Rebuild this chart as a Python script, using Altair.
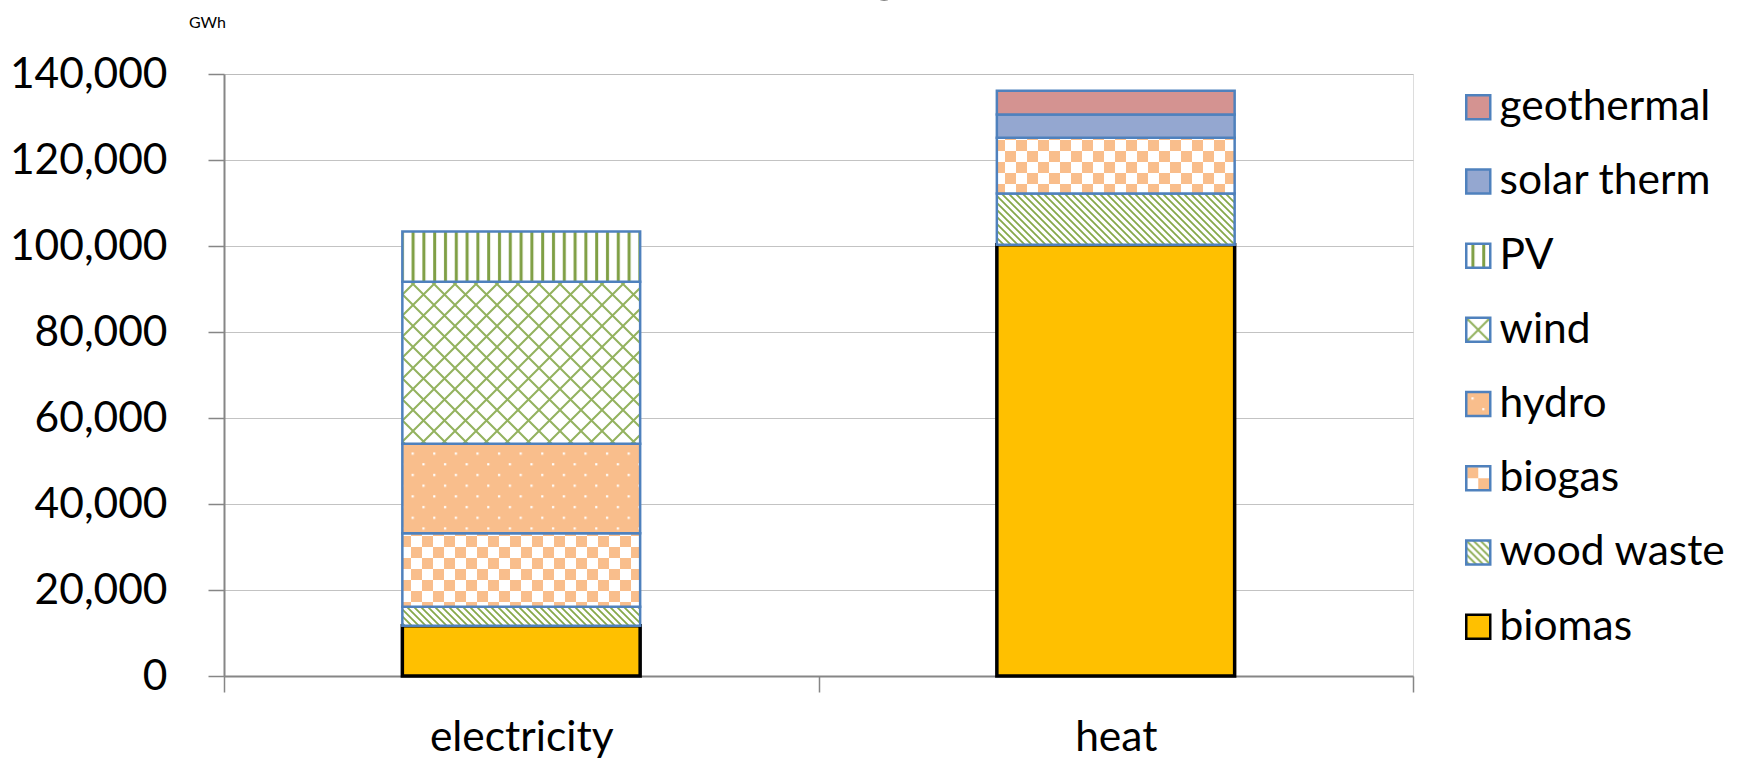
import altair as alt
import pandas as pd

# ---- data ----
categories = ["electricity", "heat"]
sources = ["biomas", "wood waste", "biogas", "hydro", "wind", "PV", "solar therm", "geothermal"]
electricity_gwh = [11700, 4400, 17100, 20800, 37700, 11700, 0, 0]
heat_gwh = [100300, 11900, 13000, 0, 0, 0, 5400, 5500]
y_ticks = [0, 20000, 40000, 60000, 80000, 100000, 120000, 140000]
title_text = "Renewable Energy in Germany (2010)"
unit_label = "GWh"

# fills: patterns defined in the page (see DEFS) or plain colours
fill_for = {
    "biomas": "#FFC000",
    "wood waste": "url(#pWood)",
    "biogas": "url(#pBiogas)",
    "hydro": "url(#pHydro)",
    "wind": "url(#pWind)",
    "PV": "url(#pPV)",
    "solar therm": "#94A7D0",
    "geothermal": "#D49391",
}
stroke_for = {s: ("#000000" if s == "biomas" else "#4F81BD") for s in sources}

rows = []
for cat, vals in zip(categories, [electricity_gwh, heat_gwh]):
    for i, (s, v) in enumerate(zip(sources, vals)):
        if v > 0:
            rows.append({"use": cat, "source": s, "value": v, "ord": i})
df = pd.DataFrame(rows)
title_df = pd.DataFrame({"t": [title_text]})

legend_order = list(reversed(sources))
FONT = "Lato"
FS = 42.5


def make_legend():
    return alt.Legend(title=None, orient="none", legendX=1233, legendY=12,
                      symbolType="square", symbolSize=576, symbolStrokeWidth=2.5,
                      labelFontSize=FS, labelFont=FONT, labelColor="black",
                      labelOffset=0, rowPadding=31.2, padding=0, labelLimit=400)


bars = alt.Chart(df).mark_bar(width={"band": 0.4}).encode(
    x=alt.X("use:N", sort=categories, title=None,
            scale=alt.Scale(paddingInner=0, paddingOuter=0),
            axis=alt.Axis(labelAngle=0, tickBand="extent", tickSize=16, labelPadding=24,
                          labelFontSize=FS, labelFont=FONT, labelColor="black", labelLimit=500,
                          domainColor="#868686", domainWidth=2, tickColor="#868686",
                          tickWidth=1.5, grid=False)),
    y=alt.Y("value:Q", stack="zero", title=unit_label,
            scale=alt.Scale(domain=[0, 140000], nice=False),
            axis=alt.Axis(values=y_ticks, format=",.0f", tickSize=16, labelPadding=41,
                          labelFontSize=FS, labelFont=FONT, labelColor="black",
                          domainColor="#868686", domainWidth=2, tickColor="#868686",
                          tickWidth=1.5, grid=True, gridColor="#B4B4B4", gridWidth=0.8,
                          titleAngle=0, titleX=-17, titleY=-52, titleAlign="center",
                          titleBaseline="middle", titleFontSize=16, titleFont=FONT,
                          titleFontWeight="normal", titleColor="black")),
    fill=alt.Fill("source:N", sort=legend_order,
                  scale=alt.Scale(domain=legend_order, range=[fill_for[s] for s in legend_order]),
                  legend=make_legend()),
    stroke=alt.Stroke("source:N", sort=legend_order,
                      scale=alt.Scale(domain=legend_order, range=[stroke_for[s] for s in legend_order]),
                      legend=make_legend()),
    strokeWidth=alt.condition(alt.datum.source == "biomas", alt.value(3.5), alt.value(2.5)),
    order=alt.Order("ord:Q", sort="ascending"),
)

# chart title: in the reference it sits above the picture's top edge, only its descenders show
title_mark = alt.Chart(title_df).mark_text(
    font=FONT, fontSize=58, color="black", align="right", baseline="alphabetic"
).encode(
    text="t:N",
    x=alt.value(1191),
    y=alt.value(-84),
)

chart = alt.layer(bars, title_mark).properties(
    width=1189,
    height=602,
    autosize=alt.AutoSizeParams(type="none"),
    padding={"left": 224, "top": 74, "right": 337, "bottom": 83},
).configure_view(
    stroke="#000000", strokeWidth=2
).configure(background="white")

DEFS = """
<svg width="0" height="0" style="position:absolute;width:0;height:0;overflow:hidden" aria-hidden="true">
<defs>
<pattern id="pWood" patternUnits="userSpaceOnUse" width="7" height="7">
  <rect width="7" height="7" fill="#ffffff"/>
  <path d="M-1,-1 L8,8 M-1,6 L1,8 M6,-1 L8,1" stroke="#86A84A" stroke-width="1.8"/>
</pattern>
<pattern id="pBiogas" patternUnits="userSpaceOnUse" width="22" height="22">
  <rect width="22" height="22" fill="#ffffff"/>
  <rect x="0" y="0" width="11" height="11" fill="#F9BE8C"/>
  <rect x="11" y="11" width="11" height="11" fill="#F9BE8C"/>
</pattern>
<pattern id="pHydro" patternUnits="userSpaceOnUse" width="21.6" height="21.4">
  <rect width="21.6" height="21.4" fill="#F9BE8C"/>
  <rect x="4" y="4" width="2.2" height="2.2" fill="#ffffff"/>
  <rect x="14.8" y="14.7" width="2.2" height="2.2" fill="#ffffff"/>
</pattern>
<pattern id="pWind" patternUnits="userSpaceOnUse" width="21" height="21">
  <rect width="21" height="21" fill="#ffffff"/>
  <path d="M0,0 L21,21 M21,0 L0,21" stroke="#93B25E" stroke-width="2"/>
</pattern>
<pattern id="pPV" patternUnits="userSpaceOnUse" width="10.8" height="10">
  <rect width="10.8" height="10" fill="#ffffff"/>
  <rect x="4" y="0" width="3" height="10" fill="#7F9F45"/>
</pattern>
</defs>
</svg>
"""

saved = False
try:
    import jinja2
    import altair.utils.html as _ah
    _std = _ah.HTML_TEMPLATE
    _tmpl = jinja2.Template("")

    def _render(*args, **kwargs):
        html = _std.render(*args, **kwargs)
        return html.replace("<body>", "<body>" + DEFS, 1)

    _tmpl.render = _render
    chart.save("out.html", embed_options={"renderer": "svg", "actions": False}, template=_tmpl)
    saved = True
except Exception:
    saved = False

if not saved:
    chart.save("out.html", embed_options={"renderer": "svg", "actions": False})
